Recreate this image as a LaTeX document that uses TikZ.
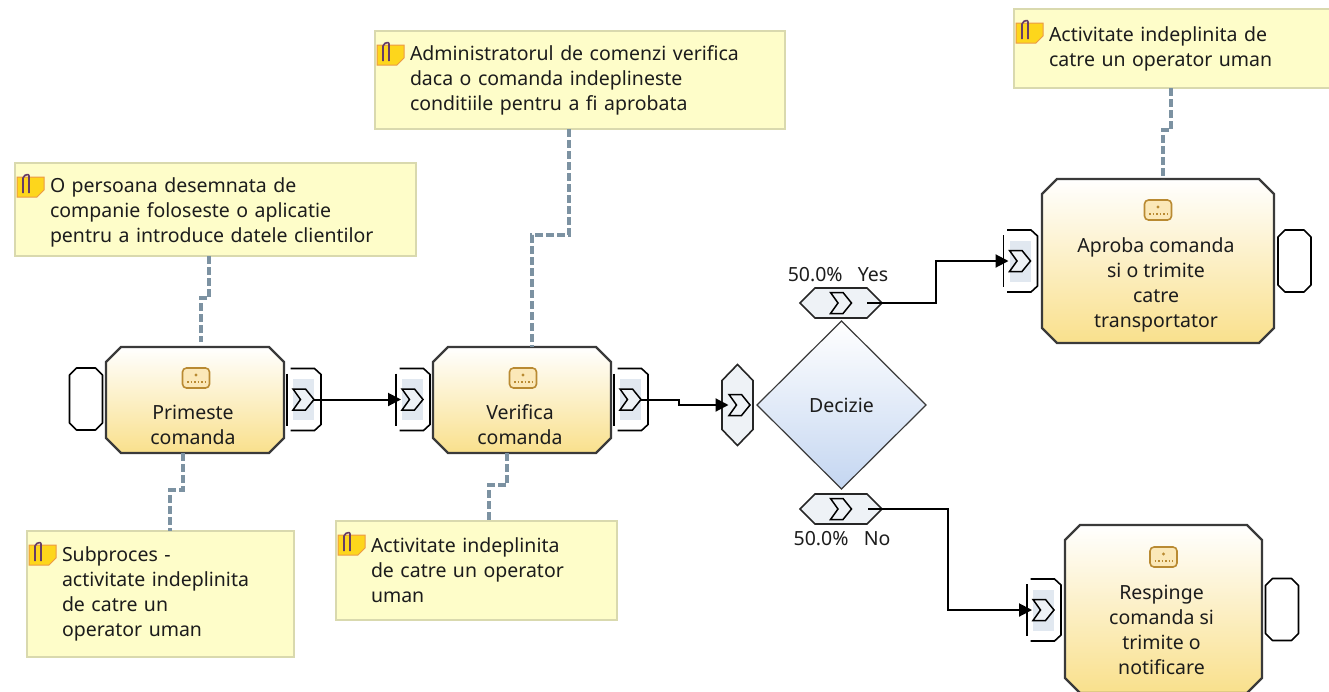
\documentclass[tikz,border=0pt]{standalone}
\usepackage{fontspec}
\setmainfont{Noto Sans}
\usepackage{tikz}
\usetikzlibrary{arrows.meta}
\usetikzlibrary{positioning}
\usetikzlibrary{shapes.geometric}
\definecolor{notefill}{HTML}{FEFDC9}
\definecolor{noteedge}{HTML}{D9D9AE}
\definecolor{noteline}{HTML}{7C92A2}
\definecolor{portblue}{HTML}{E1E8F0}
\definecolor{hexfill}{HTML}{EEF2F6}
\definecolor{taskedge}{HTML}{3A3A3A}
\definecolor{taskyellow}{HTML}{F9E08C}
\definecolor{diamondblue}{HTML}{C4D6F1}
\definecolor{iconfill}{HTML}{FBE8B8}
\definecolor{iconedge}{HTML}{B98A32}
\definecolor{inktext}{HTML}{1C1C1C}
\newcommand{\cutbox}[3]{([xshift=#2]#1.north west) -- ([xshift=-#2]#1.north east) -- ([yshift=-#3]#1.north east) -- ([yshift=#3]#1.south east) -- ([xshift=-#2]#1.south east) -- ([xshift=#2]#1.south west) -- ([yshift=#3]#1.south west) -- ([yshift=-#3]#1.north west) -- cycle}
\tikzstyle{basefont}=[font=\fontsize{19.5}{25}\selectfont,text=inktext]
\tikzstyle{slot}=[inner sep=0pt,outer sep=0pt]
\tikzstyle{taskbody}=[draw=taskedge,line width=2.4pt,top color=white,bottom color=taskyellow]
\tikzstyle{tasktext}=[basefont,align=center,inner sep=0pt]
\tikzstyle{taskicon}=[draw=iconedge,fill=iconfill,line width=1.6pt,rounded corners=4pt,minimum width=27pt,minimum height=20pt,inner sep=0pt,
  path picture={\fill[iconedge] ([yshift=3pt]path picture bounding box.center) circle (1.6pt);
    \draw[iconedge,line width=1.2pt,dash pattern=on 1.5pt off 2pt] ([xshift=-9pt,yshift=-4pt]path picture bounding box.center) -- ([xshift=9pt,yshift=-4pt]path picture bounding box.center);}]
\tikzstyle{emptyport}=[slot,minimum width=33pt,minimum height=62pt]
\tikzstyle{portbody}=[draw=black,fill=white,line width=1.6pt,line join=round]
\tikzstyle{sigmaport}=[fill=portblue,minimum width=21pt,minimum height=41pt,inner sep=0pt,outer sep=0pt]
\tikzstyle{hexbody}=[draw=black!85,fill=hexfill,line width=1.6pt]
\tikzstyle{decision}=[draw=taskedge,line width=1.2pt,shape=diamond,top color=white,bottom color=diamondblue,minimum width=169pt,minimum height=168pt,inner sep=0pt,outer sep=0pt,basefont]
\tikzstyle{note}=[draw=noteedge,fill=notefill,line width=2pt,anchor=north west,align=left,basefont,inner xsep=35pt,inner ysep=0pt,outer sep=0pt]
\tikzstyle{flow}=[draw=black,line width=2pt,-{Triangle[length=13pt,width=13pt]}]
\tikzstyle{notelink}=[draw=noteline,line width=3.4pt,dash pattern=on 8pt off 3pt]
\tikzset{
  sigmamark/.pic={\draw[line width=1.5pt,fill=hexfill] (-10.5,-10.5) -- (2,-10.5) -- (10.5,0) -- (2,10.5) -- (-10.5,10.5) -- (-3,0) -- cycle;},
  portmark/.pic={\draw[line width=1.6pt] (-16.5,-26) -- (-16.5,26);
    \draw[line width=1.6pt] (-13,-31) -- (11,-31) -- (17.5,-25) -- (17.5,25) -- (11,31) -- (-13,31);},
  noteicon/.pic={\fill[yellow!70!orange!90,draw=orange!60!brown!80,line width=1pt] (2,14) -- (29,14) -- (29,27) -- (22,34) -- (2,34) -- cycle;
    \draw[violet!40!gray!80!black,line width=1.6pt,rounded corners=2pt] (8,30) -- (8,13) -- (14,11) -- (14,30);}
}
\begin{document}
\begin{tikzpicture}[x=1pt,y=-1pt]
\useasboundingbox (0,0) rectangle (1329,691);
\clip (0,0) rectangle (1329,691);
\node [note,text width=331pt,minimum height=93pt] (n1) at (15,163) {\rule{0pt}{20pt}O persoana desemnata de\\companie foloseste o aplicatie\\pentru a introduce datele clientilor};
\node [note,text width=340pt,minimum height=98pt] (n2) at (375,31) {Administratorul de comenzi verifica\\daca o comanda indeplineste\\conditiile pentru a fi aprobata};
\node [note,text width=255pt,minimum height=79pt] (n3) at (1014,9) {Activitate indeplinita de\\catre un operator uman};
\node [note,text width=197pt,minimum height=126pt] (n4) at (27,531) {Subproces -\\activitate indeplinita\\de catre un\\operator uman};
\node [note,text width=211pt,minimum height=99pt] (n5) at (336,521) {Activitate indeplinita\\de catre un operator\\uman};
\foreach \n in {n1,n2,n3,n4,n5}
  \pic at (\n.north west) {noteicon};

\node [slot,minimum width=178pt,minimum height=106pt] (t1) at (195,400) {};
\node [slot,minimum width=178pt,minimum height=106pt] (t2) at (522,400) {};
\node [slot,minimum width=232pt,minimum height=164pt] (t3) at (1158,261) {};
\node [slot,minimum width=197pt,minimum height=168pt] (t4) at (1163.5,609) {};
\foreach \n in {t1,t2,t3,t4}
  \draw [taskbody] \cutbox{\n}{15pt}{15pt};

\node [taskicon] (i1) at ([xshift=1pt,yshift=-31pt]t1.north) {};
\node [taskicon] (i2) at ([xshift=1pt,yshift=-31pt]t2.north) {};
\node [taskicon] (i3) at ([yshift=-31pt]t3.north) {};
\node [taskicon] (i4) at ([yshift=-32pt]t4.north) {};
\node [tasktext,below=16pt of i1,xshift=-3pt] (l1) {Primeste\\comanda};
\node [tasktext,below=16pt of i2,xshift=-3pt] (l2) {Verifica\\comanda};
\node [tasktext,below=17pt of i3,xshift=-2pt] (l3) {Aproba comanda\\si o trimite\\catre\\transportator};
\node [tasktext,below=17pt of i4,xshift=-2pt] (l4) {Respinge\\comanda si\\trimite o\\notificare};

\node [emptyport] (e1) at (86,399) {};
\node [emptyport] (e2) at (1294.5,261) {};
\node [emptyport] (e3) at (1282,609.5) {};
\foreach \n in {e1,e2,e3}
  \draw [portbody] \cutbox{\n}{7pt}{7pt};

\foreach \n/\x/\y in {p1/303.5/399.5,p2/412.5/399.5,p3/630.5/399.5,p4/1020/261,p5/1043.5/610} {
  \node [sigmaport] (\n) at (\x,\y) {};
  \pic at (\n) {portmark};
  \pic at (\n) {sigmamark};
}

\node [decision] (d) at (841.5,405) {Decizie\hspace{6pt}};
\node [slot,minimum width=31pt,minimum height=81pt] (h1) at (737.5,405) {};
\node [slot,minimum width=82pt,minimum height=30pt] (h2) at (841,303) {};
\node [slot,minimum width=82pt,minimum height=30pt] (h3) at (841,509) {};
\draw [hexbody] \cutbox{h1}{15.5pt}{16pt};
\draw [hexbody] \cutbox{h2}{15pt}{15pt};
\draw [hexbody] \cutbox{h3}{15pt}{15pt};
\pic at ([xshift=2pt]h1.center) {sigmamark};
\pic at (h2.center) {sigmamark};
\pic at (h3.center) {sigmamark};
\node [tasktext,above=6pt of h2,xshift=-3pt] (y) {50.0\%\ \ \ Yes};
\node [tasktext,below=7pt of h3,xshift=1pt] (no) {50.0\%\ \ \ No};

\draw [flow] (p1.east) -- ([xshift=-1pt]p2.west);
\draw [flow] (p3.east) -- ++(38,0) |- ([xshift=-9pt]h1.center);
\draw [flow,shorten <=-1pt] ([xshift=-14pt]h2.east) -| (936,261) -- ([xshift=-1pt]p4.west);
\draw [flow] ([xshift=-14pt]h3.east) -| (948,610) -- ([xshift=-1pt]p5.west);

\draw [notelink] ([xshift=-6.5pt]n1.south) -- ++(0,42) -| ([xshift=6pt,yshift=5pt]t1.north);
\draw [notelink] ([xshift=-11pt]n2.south) -- ++(0,106) -| ([xshift=10pt]t2.north);
\draw [notelink] ([xshift=-5.5pt]n3.south) -- ++(0,42) -| ([xshift=5pt]t3.north);
\draw [notelink] ([xshift=-12pt]t1.south) -- ++(0,37) -| ([xshift=9.5pt]n4.north);
\draw [notelink] ([xshift=-15pt]t2.south) -- ++(0,32) -| ([xshift=12.5pt]n5.north);
\end{tikzpicture}
\end{document}
